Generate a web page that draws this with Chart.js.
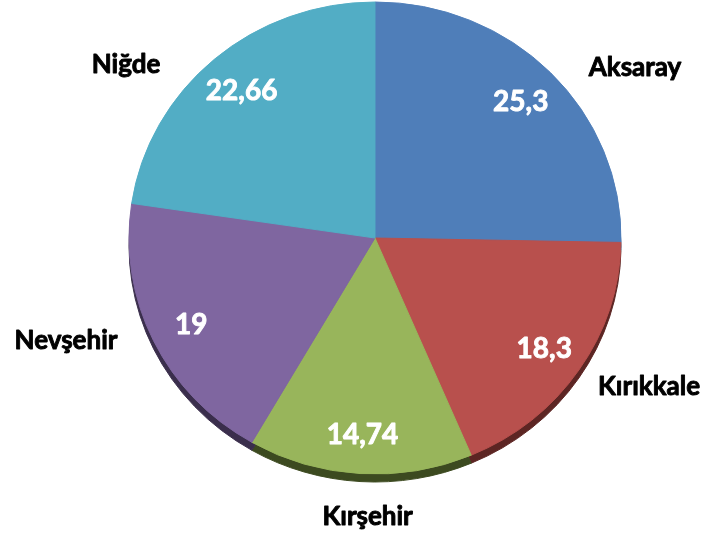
<!DOCTYPE html>
<html>
<head>
<meta charset="utf-8">
<script src="https://cdn.jsdelivr.net/npm/chart.js@4/dist/chart.umd.min.js"></script>
<style>
  html, body { margin: 0; padding: 0; background: #fff; }
  #c { display: block; }
</style>
</head>
<body>
<canvas id="c" width="705" height="533"></canvas>
<script>
// ---- data ----
const categories = ['Aksaray', 'Kırıkkale', 'Kırşehir', 'Nevşehir', 'Niğde'];
const values = [25.3, 18.3, 14.74, 19, 22.66];
const valueLabels = ['25,3', '18,3', '14,74', '19', '22,66'];

// ---- style ----
const faceColors = ['#4F7EB9', '#B8504D', '#98B55B', '#7F66A0', '#52ADC5'];
const rimColors  = ['#2B4568', '#5C2523', '#3C4A20', '#3A2E4C', '#2B5C69'];
const squash = 236 / 246;      // vertical flattening of the tilted pie
const rimDepth = 8;            // px thickness of the visible rim
const valueRadius = 0.83;      // value labels, fraction of radius
// outside category labels: centre offsets in radius units (x by rx, y by ry)
const catAnchor = [[1.057, -0.727], [1.114, 0.627], [-0.030, 1.174], [-1.256, 0.428], [-1.012, -0.740]];
const FONT = 'Lato, "Open Sans", sans-serif';

function heavyText(ctx, text, x, y, color) {
  ctx.fillStyle = color;
  ctx.strokeStyle = color;
  ctx.lineWidth = 0.9;
  ctx.lineJoin = 'round';
  ctx.fillText(text, x, y);
  ctx.strokeText(text, x, y);
}

const pieShape = {
  id: 'pieShape',
  beforeDatasetsDraw(chart) {
    const ctx = chart.ctx;
    const arcs = chart.getDatasetMeta(0).data;
    if (!arcs.length) return;
    const cx = arcs[0].x, cy = arcs[0].y;
    ctx.save();
    ctx.translate(cx, cy);
    ctx.scale(1, squash);
    ctx.translate(-cx, -cy);
    // rim (3D edge) drawn below the face
    ctx.save();
    ctx.translate(0, rimDepth / squash);
    arcs.forEach((a, i) => {
      ctx.beginPath();
      ctx.moveTo(a.x, a.y);
      ctx.arc(a.x, a.y, a.outerRadius, a.startAngle, a.endAngle);
      ctx.closePath();
      ctx.fillStyle = rimColors[i];
      ctx.fill();
      ctx.strokeStyle = rimColors[i];
      ctx.lineWidth = 1;
      ctx.stroke();
    });
    ctx.restore();
  },
  afterDatasetsDraw(chart) {
    chart.ctx.restore();
  },
  afterDraw(chart) {
    const ctx = chart.ctx;
    const arcs = chart.getDatasetMeta(0).data;
    if (!arcs.length) return;
    const cx = arcs[0].x, cy = arcs[0].y, R = arcs[0].outerRadius;
    ctx.save();
    ctx.textAlign = 'center';
    ctx.textBaseline = 'alphabetic';
    // value labels
    ctx.font = 'bold 28px ' + FONT;
    let cap = ctx.measureText('0').actualBoundingBoxAscent;
    arcs.forEach((a, i) => {
      const mid = (a.startAngle + a.endAngle) / 2;
      const x = cx + valueRadius * R * Math.cos(mid);
      const y = cy + valueRadius * R * squash * Math.sin(mid);
      heavyText(ctx, valueLabels[i], x, y + cap / 2, '#FFFFFF');
    });
    // category labels
    ctx.font = 'bold 26px ' + FONT;
    cap = ctx.measureText('H').actualBoundingBoxAscent;
    categories.forEach((name, i) => {
      const x = cx + catAnchor[i][0] * R;
      const y = cy + catAnchor[i][1] * R * squash;
      heavyText(ctx, name, x, y + cap / 2, '#000000');
    });
    ctx.restore();
  }
};

new Chart(document.getElementById('c'), {
  type: 'pie',
  data: {
    labels: categories,
    datasets: [{
      data: values,
      backgroundColor: faceColors,
      borderColor: faceColors,
      borderWidth: 1,
      clip: false
    }]
  },
  options: {
    responsive: false,
    animation: false,
    radius: 246,
    layout: { padding: { left: 129, right: 84, top: 0, bottom: 57 } },
    plugins: {
      legend: { display: false },
      tooltip: { enabled: false }
    }
  },
  plugins: [pieShape]
});
</script>
</body>
</html>
